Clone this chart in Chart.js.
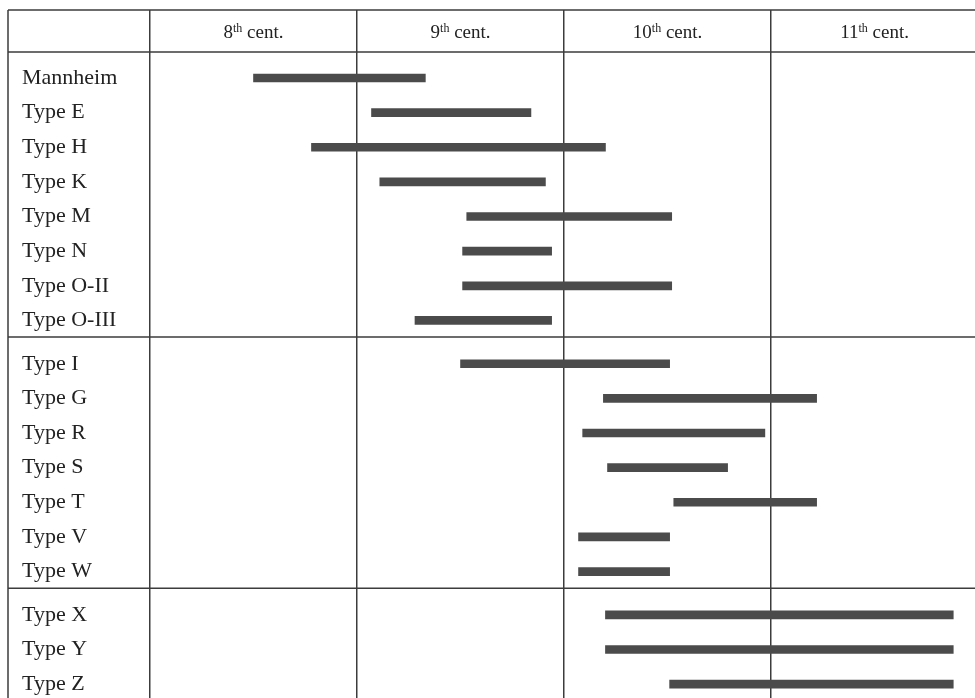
<!DOCTYPE html>
<html>
<head>
<meta charset="utf-8">
<script src="https://cdn.jsdelivr.net/npm/chart.js@4.4.1/dist/chart.umd.min.js"></script>
<style>
  html, body { margin: 0; padding: 0; background: #fff; }
  canvas { display: block; }
</style>
</head>
<body>
<canvas id="grafico" width="975" height="698"></canvas>
<script>
// --- DATOS (filas de la tabla, de arriba a abajo) ---
const tipos = ['Mannheim', 'Type E', 'Type H', 'Type K', 'Type M', 'Type N', 'Type O-II', 'Type O-III',
               'Type I', 'Type G', 'Type R', 'Type S', 'Type T', 'Type V', 'Type W',
               'Type X', 'Type Y', 'Type Z'];
const grupo = [0, 0, 0, 0, 0, 0, 0, 0, 1, 1, 1, 1, 1, 1, 1, 2, 2, 2];
const desde = [750, 807, 778, 811, 853, 851, 851, 828, 850, 919, 909, 921, 953, 907, 907, 920, 920, 951];
const hasta = [833, 884, 920, 891, 952, 894, 952, 894, 951, 1022, 997, 979, 1022, 951, 951, 1088, 1088, 1088];

// Cabecera
const siglos = ['8', '9', '10', '11'];
const inicioSiglo = [700, 800, 900, 1000];

const colorLinea = '#3c3c3c';
const colorTexto = '#222';

// posición vertical de cada fila (pequeño hueco extra entre grupos)
const posFila = tipos.map((t, i) => i + grupo[i] * 0.25);

// Marco de la tabla, separadores y cabecera con superíndice
const tabla = {
    id: 'tabla',
    beforeDatasetsDraw(chart) {
        const { ctx, chartArea, scales: { x, y } } = chart;
        const izq = y.left - 14;
        const der = chart.width;
        ctx.save();
        ctx.strokeStyle = colorLinea;
        ctx.lineWidth = 1.5;
        ctx.beginPath();
        ctx.moveTo(izq, x.top); ctx.lineTo(izq, chart.height);
        ctx.moveTo(izq, x.top); ctx.lineTo(der, x.top);
        ctx.moveTo(izq, chartArea.top); ctx.lineTo(der, chartArea.top);
        for (let i = 0; i < tipos.length - 1; i++) {
            if (grupo[i] !== grupo[i + 1]) {
                const py = y.getPixelForValue(posFila[i] + 0.48);
                ctx.moveTo(izq, py); ctx.lineTo(der, py);
            }
        }
        ctx.stroke();

        // texto de la cabecera: "8th cent." con "th" en superíndice
        ctx.fillStyle = colorTexto;
        ctx.textBaseline = 'alphabetic';
        ctx.textAlign = 'left';
        const base = x.top + 28;
        const fuente = '19px "Liberation Serif"';
        const fuenteSup = '12px "Liberation Serif"';
        siglos.forEach((s, i) => {
            const cx = x.getPixelForValue(inicioSiglo[i] + 50);
            ctx.font = fuente;
            const wNum = ctx.measureText(s).width;
            const wResto = ctx.measureText(' cent.').width;
            ctx.font = fuenteSup;
            const wSup = ctx.measureText('th').width;
            let px = cx - (wNum + wSup + wResto) / 2;
            ctx.font = fuente;
            ctx.fillText(s, px, base);
            px += wNum;
            ctx.font = fuenteSup;
            ctx.fillText('th', px, base - 6);
            px += wSup;
            ctx.font = fuente;
            ctx.fillText(' cent.', px, base);
        });
        ctx.restore();
    }
};

new Chart(document.getElementById('grafico'), {
    type: 'bar',
    data: {
        datasets: [{
            data: tipos.map((t, i) => ({ y: posFila[i], x: [desde[i], hasta[i]] })),
            backgroundColor: '#4b4b4b',
            barThickness: 8,
            borderSkipped: false
        }]
    },
    options: {
        indexAxis: 'y',
        responsive: false,
        animation: false,
        layout: { padding: { left: 22, top: 10, right: 0, bottom: 0 } },
        plugins: {
            legend: { display: false },
            tooltip: { enabled: false }
        },
        scales: {
            x: {
                type: 'linear',
                position: 'top',
                min: 700,
                max: 1098.5,
                afterBuildTicks: (s) => { s.ticks = inicioSiglo.map(v => ({ value: v })); },
                ticks: { display: false },
                grid: { color: colorLinea, lineWidth: 1.5, tickLength: 42, drawTicks: true },
                border: { display: false }
            },
            y: {
                type: 'linear',
                reverse: true,
                offset: false,
                min: -0.75,
                max: 17.9,
                afterBuildTicks: (s) => { s.ticks = posFila.map(v => ({ value: v })); },
                afterFit: (s) => {
                    // ancho fijo de la columna de nombres, sin margen extra abajo
                    s.width = 128;
                    s.paddingTop = 0;
                    s.paddingBottom = 0;
                },
                ticks: {
                    autoSkip: false,
                    crossAlign: 'far',
                    color: colorTexto,
                    font: { family: 'Liberation Serif', size: 22 },
                    callback: (v, i) => tipos[i]
                },
                grid: { display: false },
                border: { display: false }
            }
        }
    },
    plugins: [tabla]
});
</script>
</body>
</html>
